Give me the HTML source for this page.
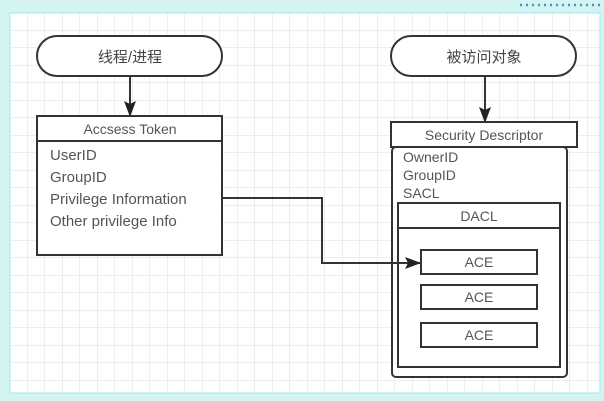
<!DOCTYPE html>
<html><head><meta charset="utf-8"><style>
body{margin:0;width:604px;height:401px;overflow:hidden;background:#d4f4f2;font-family:"Liberation Sans","Noto Sans CJK SC",sans-serif;}
</style></head><body>
<svg width="604" height="401" xmlns="http://www.w3.org/2000/svg" style="position:absolute;left:0;top:0">
<defs>
<pattern id="g" x="10" y="13" width="17.5" height="17.5" patternUnits="userSpaceOnUse">
<path d="M17.5 0V17.5M0 17.5H17.5" stroke="#dcdcdc" stroke-width="1" fill="none"/>
</pattern>
<marker id="a" markerWidth="16" markerHeight="12" refX="15" refY="6" orient="auto" markerUnits="userSpaceOnUse"><path d="M0 0L16 6L0 12L3 6Z" fill="#222"/></marker>
</defs>
<rect x="0" y="0" width="604" height="401" fill="#d4f4f2"/>
<rect x="10" y="13" width="590" height="380" fill="#fff" stroke="#9ee" stroke-width="1"/>
<rect x="10" y="13" width="590" height="380" fill="url(#g)"/>
<line x1="520" y1="5" x2="604" y2="5" stroke="#4a8fd0" stroke-width="2.5" stroke-dasharray="2 4"/>
<g fill="none" stroke="#333" stroke-width="2">
<rect x="37" y="36" width="185" height="40" rx="20" fill="#fff"/>
<rect x="391" y="36" width="185" height="40" rx="20" fill="#fff"/>
<line x1="130" y1="76" x2="130" y2="116" marker-end="url(#a)"/>
<line x1="485" y1="76" x2="485" y2="122" marker-end="url(#a)"/>
<rect x="37" y="116" width="185" height="139" fill="#fff"/>
<line x1="37" y1="141" x2="222" y2="141"/>
<rect x="392" y="147" width="175" height="230" rx="4" fill="#fff"/>
<rect x="391" y="122" width="186" height="25" fill="#fff"/>
<rect x="398" y="203" width="162" height="164" fill="#fff"/>
<line x1="398" y1="228" x2="560" y2="228"/>
<rect x="421" y="250" width="116" height="24"/>
<rect x="421" y="285" width="116" height="24"/>
<rect x="421" y="323" width="116" height="24"/>
<polyline points="222,198 322,198 322,263 420,263" marker-end="url(#a)"/>
</g>
<g fill="#555" font-size="15">
<text x="130" y="62" text-anchor="middle" fill="#444">线程/进程</text>
<text x="484" y="62" text-anchor="middle" fill="#444">被访问对象</text>
<text x="130" y="134" text-anchor="middle" font-size="14">Accsess Token</text>
<text x="50" y="160">UserID</text>
<text x="50" y="182">GroupID</text>
<text x="50" y="204">Privilege Information</text>
<text x="50" y="226">Other privilege Info</text>
<text x="484" y="140" text-anchor="middle" font-size="14">Security Descriptor</text>
<g font-size="14"><text x="403" y="162">OwnerID</text>
<text x="403" y="180">GroupID</text>
<text x="403" y="198">SACL</text>
<text x="479" y="221" text-anchor="middle">DACL</text>
<text x="479" y="267" text-anchor="middle">ACE</text>
<text x="479" y="302" text-anchor="middle">ACE</text>
<text x="479" y="340" text-anchor="middle">ACE</text></g>
</g>
</svg>
</body></html>
